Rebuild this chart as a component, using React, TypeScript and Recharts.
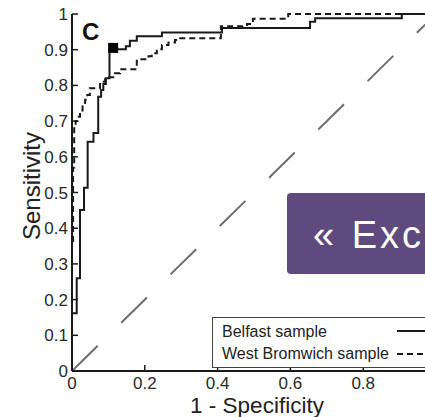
import React from "react";
import { ComposedChart, Line, Scatter, XAxis, YAxis, Legend } from "recharts";

const FONT = '"Liberation Sans", Arial, sans-serif';
const INK = "#1a1a1a";

const X_TICKS = [0, 0.2, 0.4, 0.6, 0.8];
const TOP_TICKS = [0, 0.2, 0.4, 0.6, 0.8, 1];
const Y_TICKS = [0, 0.1, 0.2, 0.3, 0.4, 0.5, 0.6, 0.7, 0.8, 0.9, 1];

// ROC corners. Each point closes a horizontal run, drawn with stepBefore
// (rise first, then move right), which is how the empirical curve steps.
const BELFAST_FPR = [0, 0.013, 0.022, 0.033, 0.043, 0.059, 0.072, 0.08, 0.086, 0.093, 0.103, 0.148, 0.159, 0.178, 0.247, 0.412, 0.654, 0.668, 0.906, 1];
const BELFAST_TPR = [0, 0.162, 0.26, 0.451, 0.513, 0.642, 0.667, 0.768, 0.787, 0.804, 0.82, 0.901, 0.91, 0.925, 0.938, 0.948, 0.961, 0.978, 0.988, 1];

const WEST_BROMWICH_FPR = [0, 0.003, 0.006, 0.01, 0.015, 0.022, 0.029, 0.036, 0.042, 0.049, 0.077, 0.091, 0.099, 0.118, 0.132, 0.178, 0.21, 0.219, 0.233, 0.247, 0.265, 0.283, 0.292, 0.409, 0.481, 0.497, 0.594, 1];
const WEST_BROMWICH_TPR = [0, 0.35, 0.57, 0.68, 0.7, 0.712, 0.73, 0.745, 0.76, 0.773, 0.792, 0.81, 0.817, 0.823, 0.834, 0.845, 0.873, 0.882, 0.89, 0.901, 0.913, 0.92, 0.927, 0.932, 0.966, 0.972, 0.987, 1];

const CHANCE_FPR = [0, 1];
const CHANCE_TPR = [0, 1];

// chosen cut-off on the Belfast curve (filled square)
const CUTOFF_FPR = [0.113];
const CUTOFF_TPR = [0.905];

const SERIES_NAMES = ["Belfast sample", "West Bromwich sample"];

const toPoints = (xs: number[], ys: number[]) => xs.map((x, i) => ({ x, y: ys[i] }));

const belfast = toPoints(BELFAST_FPR, BELFAST_TPR);
const westBromwich = toPoints(WEST_BROMWICH_FPR, WEST_BROMWICH_TPR);
const chance = toPoints(CHANCE_FPR, CHANCE_TPR);
const cutoff = toPoints(CUTOFF_FPR, CUTOFF_TPR);

const TICK = { fontSize: 17, fill: "#2a2a2a", fontFamily: FONT } as const;
const AXIS_LINE = { stroke: INK, strokeWidth: 2 };
const TICK_LINE = { stroke: INK, strokeWidth: 1.5 };

const fmt = (v: number) => (v === 0 || v === 1 ? String(v) : v.toFixed(1));

function LegendBox() {
  return (
    <svg width={222} height={51} style={{ display: "block" }}>
      <rect x={0.5} y={0.5} width={221} height={50} fill="#fff" stroke="#444" strokeWidth={1} />
      <text x={10} y={20} fontSize={16} fontFamily={FONT} fill="#222">
        {SERIES_NAMES[0]}
      </text>
      <line x1={185} x2={222} y1={14} y2={14} stroke={INK} strokeWidth={2} />
      <text x={10} y={42} fontSize={16} fontFamily={FONT} fill="#222">
        {SERIES_NAMES[1]}
      </text>
      <line x1={185} x2={222} y1={37} y2={37} stroke={INK} strokeWidth={2} strokeDasharray="6 4" />
    </svg>
  );
}

const square = (props: any) => (
  <rect x={props.cx - 5} y={props.cy - 5} width={10} height={10} fill="#000" />
);

export default function App() {
  return (
    <div
      style={{
        position: "absolute",
        left: 0,
        top: 0,
        width: 425,
        height: 417,
        overflow: "hidden",
        background: "#fff",
        fontFamily: FONT,
      }}
    >
      <ComposedChart width={450} height={417} margin={{ top: 14, right: 14, bottom: 0, left: 22 }}>
        <XAxis
          type="number"
          dataKey="x"
          domain={[0, 1]}
          ticks={X_TICKS}
          interval={0}
          tickFormatter={fmt}
          tick={TICK}
          tickSize={-6}
          tickMargin={12}
          height={46}
          axisLine={AXIS_LINE}
          tickLine={TICK_LINE}
          label={{
            content: () => (
              <text x={257} y={413} textAnchor="middle" fontSize={22.5} fontFamily={FONT} fill="#222">
                1 - Specificity
              </text>
            ),
          }}
        />
        <XAxis
          xAxisId="top"
          orientation="top"
          type="number"
          dataKey="x"
          domain={[0, 1]}
          ticks={TOP_TICKS}
          interval={0}
          tick={false}
          tickSize={-6}
          height={0}
          axisLine={AXIS_LINE}
          tickLine={TICK_LINE}
        />
        <YAxis
          type="number"
          domain={[0, 1]}
          ticks={Y_TICKS}
          interval={0}
          tickFormatter={fmt}
          tick={TICK}
          tickSize={-6}
          tickMargin={10}
          width={50}
          axisLine={AXIS_LINE}
          tickLine={TICK_LINE}
          label={{
            content: () => (
              <text
                x={40}
                y={186}
                transform="rotate(-90, 40, 186)"
                textAnchor="middle"
                fontSize={24}
                fontFamily={FONT}
                fill="#222"
              >
                Sensitivity
              </text>
            ),
          }}
        />
        <Line
          data={chance}
          dataKey="y"
          type="linear"
          stroke="#6e6e6e"
          strokeWidth={2}
          strokeDasharray="36 33"
          dot={false}
          isAnimationActive={false}
          legendType="none"
        />
        <Line
          data={westBromwich}
          dataKey="y"
          name={SERIES_NAMES[1]}
          type="stepBefore"
          stroke={INK}
          strokeWidth={2}
          strokeDasharray="6 4"
          dot={false}
          isAnimationActive={false}
        />
        <Line
          data={belfast}
          dataKey="y"
          name={SERIES_NAMES[0]}
          type="stepBefore"
          stroke={INK}
          strokeWidth={2}
          dot={false}
          isAnimationActive={false}
        />
        <Scatter data={cutoff} dataKey="y" shape={square} isAnimationActive={false} legendType="none" />
        <text x={82} y={40} fontSize={24} fontWeight="bold" fontFamily={FONT} fill="#111">
          C
        </text>
        <Legend
          layout="horizontal"
          verticalAlign="middle"
          align="center"
          wrapperStyle={{ position: "absolute", left: 212, top: 317, width: 222, height: 51 }}
          content={() => <LegendBox />}
        />
      </ComposedChart>
      <div
        style={{
          position: "absolute",
          left: 287,
          top: 193,
          width: 200,
          height: 81,
          background: "#5f4a7e",
          borderRadius: 4,
          color: "#fff",
          fontSize: 38,
          lineHeight: "84px",
          paddingLeft: 26,
          boxSizing: "border-box",
          whiteSpace: "nowrap",
          letterSpacing: 3,
          wordSpacing: 1,
        }}
      >
        « Excerpt
      </div>
    </div>
  );
}
